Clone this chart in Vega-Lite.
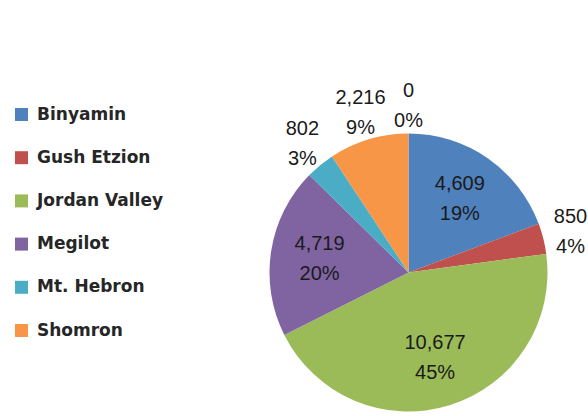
{
  "$schema": "https://vega.github.io/schema/vega-lite/v6.json",
  "width": 359,
  "height": 287,
  "autosize": {"type": "none"},
  "padding": {"left": 229, "top": 129, "right": 0, "bottom": 0},
  "background": "white",
  "data": {
    "values": [
      {"category": "Binyamin", "value": 4609},
      {"category": "Gush Etzion", "value": 850},
      {"category": "Jordan Valley", "value": 10677},
      {"category": "Megilot", "value": 4719},
      {"category": "Mt. Hebron", "value": 802},
      {"category": "Shomron", "value": 2216},
      {"category": "Unspecified", "value": 0}
    ]
  },
  "transform": [
    {"joinaggregate": [{"op": "sum", "field": "value", "as": "total"}]},
    {"calculate": "format(datum.value, ',') + '\\n' + format(datum.value / datum.total, '.0%')", "as": "label"}
  ],
  "encoding": {
    "theta": {"field": "value", "type": "quantitative", "stack": true},
    "order": {"field": "category", "sort": "ascending"}
  },
  "layer": [
    {
      "mark": {"type": "arc", "radius": 139},
      "encoding": {
        "color": {
          "field": "category",
          "type": "nominal",
          "scale": {
            "domain": ["Binyamin", "Gush Etzion", "Jordan Valley", "Megilot", "Mt. Hebron", "Shomron"],
            "range": ["#4F81BD", "#C0504D", "#9BBB59", "#8064A2", "#4BACC6", "#F79646"]
          },
          "legend": {
            "title": null,
            "orient": "none",
            "legendX": -216,
            "legendY": -23,
            "symbolType": "square",
            "symbolSize": 169,
            "symbolStrokeWidth": 0,
            "labelFont": "DejaVu Sans",
            "labelFontWeight": "bold",
            "labelFontSize": 17,
            "labelColor": "#262626",
            "labelOffset": 7,
            "rowPadding": 25.2,
            "padding": 0,
            "labelLimit": 300
          }
        }
      }
    },
    {
      "mark": {"type": "text", "radius": 90, "dy": -15, "font": "Liberation Sans", "fontSize": 20, "color": "#1a1a1a", "lineBreak": "\n", "lineHeight": 30, "baseline": "middle", "align": "center"},
      "encoding": {
        "detail": {"field": "category"},
        "text": {"condition": {"test": "datum.value >= 4000", "field": "label"}, "value": ""}
      }
    },
    {
      "mark": {"type": "text", "radius": 167, "dy": -15, "font": "Liberation Sans", "fontSize": 20, "color": "#1a1a1a", "lineBreak": "\n", "lineHeight": 30, "baseline": "middle", "align": "center"},
      "encoding": {
        "detail": {"field": "category"},
        "text": {"condition": {"test": "datum.value < 4000", "field": "label"}, "value": ""}
      }
    }
  ]
}
